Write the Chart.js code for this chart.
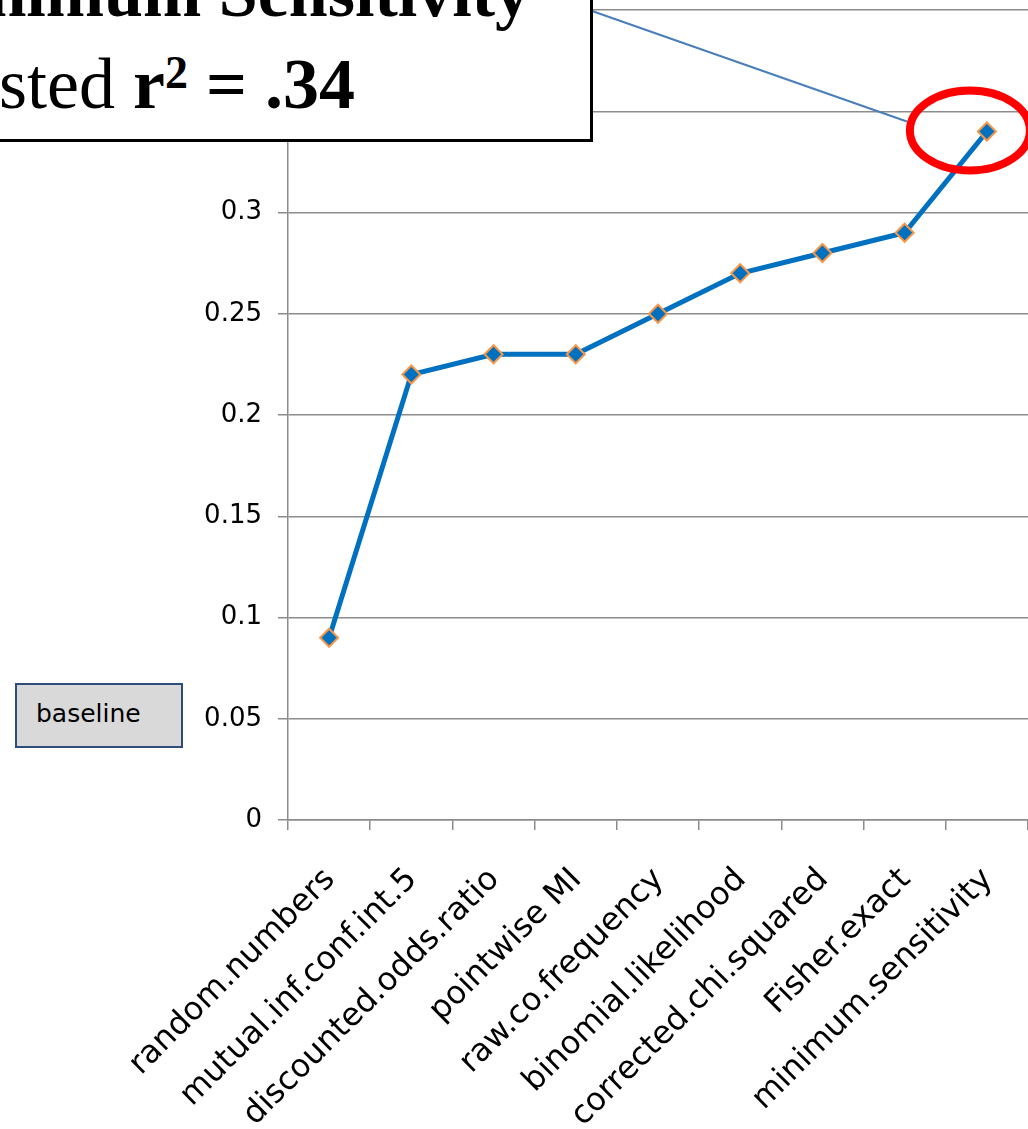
<!DOCTYPE html>
<html>
<head>
<meta charset="utf-8">
<title>Adjusted r2 by measure</title>
<script src="https://cdn.jsdelivr.net/npm/chart.js@4.4.0/dist/chart.umd.min.js"></script>
<style>
    html, body { margin: 0; padding: 0; background: #fff; overflow: hidden; }
    #wrap { position: relative; width: 1028px; height: 1129px; overflow: hidden; }
    #chart { position: absolute; left: 0; top: 0; }
    #titleBox {
        position: absolute; left: -20px; top: -20px; width: 613px; height: 162px;
        box-sizing: border-box; border: 3px solid #000; background: #fff;
    }
    .titleLine {
        position: absolute; white-space: nowrap; text-align: right;
        font-family: "Liberation Serif", serif; color: #000;
    }
    #line1 { right: 498px; top: -42px; font-size: 70px; line-height: 70px; font-weight: bold; }
    #line2 { right: 673px; top: 48px; font-size: 72px; line-height: 72px; }
    #line2 sup { font-size: 46px; line-height: 0; vertical-align: 20px; font-weight: bold; }
    #baselineBox {
        position: absolute; left: 15px; top: 683px; width: 168px; height: 65px;
        box-sizing: border-box; border: 2px solid #2e4d7b; background: #d9d9d9;
        font-family: "DejaVu Sans", sans-serif; font-size: 25px; line-height: 58px;
        padding-left: 19px; color: #000;
    }
</style>
</head>
<body>
<div id="wrap">
    <canvas id="chart" width="1028" height="1129"></canvas>
    <div id="titleBox"></div>
    <div class="titleLine" id="line1">Minimum Sensitivity</div>
    <div class="titleLine" id="line2">Adjusted <b>r</b><sup>2</sup> <b>= .34</b></div>
    <div id="baselineBox">baseline</div>
</div>
<script>
// 측정 방법별 adjusted r² 값
const measures = ['random.numbers', 'mutual.inf.conf.int.5', 'discounted.odds.ratio', 'pointwise MI',
    'raw.co.frequency', 'binomial.likelihood', 'corrected.chi.squared', 'Fisher.exact', 'minimum.sensitivity'];
const adjustedR2 = [0.09, 0.22, 0.23, 0.23, 0.25, 0.27, 0.28, 0.29, 0.34];
const yMin = 0;
const yMax = 0.4;
const yStep = 0.05;

const gridColor = '#8c8c8c';

// 마지막 점 주위 빨간 타원과 연결선
const calloutPlugin = {
    id: 'callout',
    afterDatasetsDraw(chart) {
        const ctx = chart.ctx;
        const meta = chart.getDatasetMeta(0);
        const last = meta.data[meta.data.length - 1];
        const cx = last.x - 17;
        const cy = last.y - 1;
        ctx.save();
        ctx.strokeStyle = '#4a7ebb';
        ctx.lineWidth = 2;
        ctx.beginPath();
        ctx.moveTo(592, 11);
        ctx.lineTo(cx - 63, cy - 9);
        ctx.stroke();
        ctx.strokeStyle = '#ff0000';
        ctx.lineWidth = 8;
        ctx.beginPath();
        ctx.ellipse(cx, cy, 60, 40, 0, 0, Math.PI * 2);
        ctx.stroke();
        ctx.restore();
    }
};

const ctx = document.getElementById('chart').getContext('2d');
new Chart(ctx, {
    type: 'line',
    data: {
        labels: measures,
        datasets: [{
            label: 'adjusted r2',
            data: adjustedR2,
            borderColor: '#0070c0',
            borderWidth: 5,
            tension: 0,
            pointStyle: 'rectRot',
            pointRadius: 9,
            pointBackgroundColor: '#0070c0',
            pointBorderColor: '#f79646',
            pointBorderWidth: 2,
            clip: false
        }]
    },
    options: {
        responsive: false,
        animation: false,
        layout: { autoPadding: false, padding: { top: 10, left: 0, right: 0, bottom: 0 } },
        plugins: {
            legend: { display: false },
            tooltip: { enabled: false }
        },
        scales: {
            x: {
                type: 'category',
                offset: true,
                grid: {
                    offset: true,
                    drawOnChartArea: false,
                    drawTicks: true,
                    tickLength: 10,
                    color: gridColor,
                    lineWidth: 1.5
                },
                border: { color: gridColor, width: 1.5 },
                ticks: {
                    autoSkip: false,
                    minRotation: 45,
                    maxRotation: 45,
                    padding: 31,
                    labelOffset: 1,
                    color: '#000',
                    font: { family: 'DejaVu Sans', size: 32 }
                },
                afterFit(scale) {
                    scale.height = 309;
                    scale.paddingLeft = 0;
                    scale.paddingRight = 0;
                }
            },
            y: {
                min: yMin,
                max: yMax,
                grid: {
                    color: gridColor,
                    lineWidth: 1.5,
                    tickLength: 10
                },
                border: { color: gridColor, width: 1.5 },
                ticks: {
                    stepSize: yStep,
                    padding: 16,
                    color: '#000',
                    font: { family: 'DejaVu Sans', size: 26 },
                    callback: function (value) {
                        return String(Number(value.toFixed(2)));
                    }
                },
                afterFit(scale) {
                    scale.width = 288;
                    scale.paddingTop = 0;
                    scale.paddingBottom = 0;
                }
            }
        }
    },
    plugins: [calloutPlugin]
});
</script>
</body>
</html>
